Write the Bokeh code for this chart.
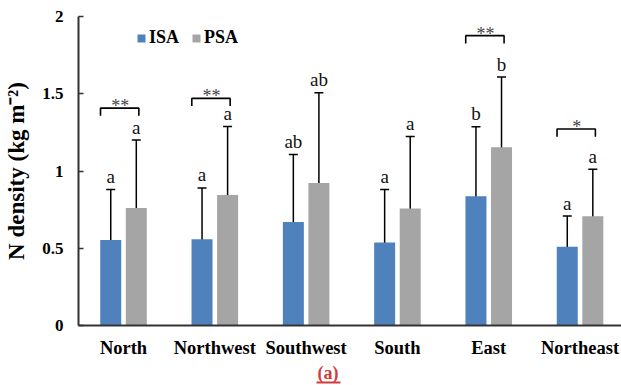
from bokeh.plotting import figure
from bokeh.models import (ColumnDataSource, Whisker, TeeHead, FixedTicker, Range1d,
                          Title, LinearAxis)
from bokeh.transform import dodge
from bokeh.core.properties import value
from bokeh.embed import file_html
from bokeh.resources import INLINE

categories = ["North", "Northwest", "Southwest", "South", "East", "Northeast"]
isa = [0.554, 0.558, 0.670, 0.537, 0.836, 0.509]
psa = [0.760, 0.845, 0.923, 0.757, 1.153, 0.707]
isa_err = [0.327, 0.332, 0.437, 0.343, 0.450, 0.199]
psa_err = [0.440, 0.443, 0.584, 0.466, 0.455, 0.304]
isa_letters = ["a", "a", "ab", "a", "b", "a"]
psa_letters = ["a", "a", "ab", "a", "b", "a"]
sig_groups = [0, 1, 4, 5]
sig_levels = [1.407, 1.470, 1.876, 1.272]
sig_marks = ["**", "**", "**", "*"]
y_ticks = [0, 0.5, 1, 1.5, 2]
panel_label = "(a)"

SERIF = "Liberation Serif"
RED = "#D23B3B"
OFF = 0.14
W = 0.23

xs = list(range(len(categories)))
src = ColumnDataSource(dict(
    x=xs, isa=isa, psa=psa,
    isa_hi=[v + e for v, e in zip(isa, isa_err)],
    isa_lo=[v - e for v, e in zip(isa, isa_err)],
    psa_hi=[v + e for v, e in zip(psa, psa_err)],
    psa_lo=[v - e for v, e in zip(psa, psa_err)],
    isa_l=isa_letters, psa_l=psa_letters,
))

p = figure(width=621, height=385, output_backend="svg", toolbar_location=None,
           x_range=Range1d(-0.493, 5.454), y_range=Range1d(0, 2),
           min_border_left=78, min_border_right=0, min_border_top=16, min_border_bottom=60)
p.outline_line_color = None
p.xgrid.visible = False
p.ygrid.visible = False

p.vbar(x=dodge("x", -OFF), top="isa", width=W, source=src, fill_color="#4F81BD",
       line_color=None, legend_label="ISA")
p.vbar(x=dodge("x", OFF), top="psa", width=W, source=src, fill_color="#A5A5A5",
       line_color=None, legend_label="PSA")

for key, off in (("isa", -OFF), ("psa", OFF)):
    w = Whisker(source=src, base=dodge("x", off), upper=key + "_hi", lower=key + "_lo",
                line_color="black", line_width=1.5,
                upper_head=TeeHead(size=9, line_width=1.5, line_color="black"),
                lower_head=TeeHead(size=9, line_width=1.5, line_color="black"))
    p.add_layout(w)
    p.text(x=dodge("x", off), y=key + "_hi", text=key + "_l", source=src,
           text_font=value(SERIF), text_font_size="19px", text_color="#111111",
           text_align="center", text_baseline="alphabetic", y_offset=-13)

# significance brackets
bx, by = [], []
for g, lv in zip(sig_groups, sig_levels):
    bx.append([g - 0.252, g - 0.252, g + 0.168, g + 0.168])
    by.append([lv - 0.05, lv, lv, lv - 0.05])
p.multi_line(xs=bx, ys=by, line_color="black", line_width=1.6)
p.text(x=[g - 0.035 for g in sig_groups], y=sig_levels, text=sig_marks,
       text_font=value(SERIF), text_font_size="18px", text_color="#444444",
       text_align="center", text_baseline="alphabetic", y_offset=-2)

# axes
p.xaxis.ticker = FixedTicker(ticks=xs)
p.xaxis.major_label_overrides = {i: c for i, c in enumerate(categories)}
p.xaxis.major_tick_line_color = None
p.xaxis.minor_tick_line_color = None
p.xaxis.axis_line_width = 2
p.xaxis.axis_line_color = "#333333"
p.xaxis.major_label_text_font = SERIF
p.xaxis.major_label_text_font_style = "bold"
p.xaxis.major_label_text_font_size = "18.5px"
p.xaxis.major_label_text_color = "black"
p.xaxis.major_label_standoff = 6

p.yaxis.ticker = FixedTicker(ticks=y_ticks)
p.yaxis.major_label_overrides = {0: "0", 0.5: "0.5", 1: "1", 1.5: "1.5", 2: "2"}
p.yaxis.minor_tick_line_color = None
p.yaxis.major_tick_in = 5
p.yaxis.major_tick_out = 0
p.yaxis.major_tick_line_width = 1.5
p.yaxis.major_tick_line_color = "#333333"
p.yaxis.axis_line_width = 2
p.yaxis.axis_line_color = "#333333"
p.yaxis.major_label_text_font = SERIF
p.yaxis.major_label_text_font_style = "bold"
p.yaxis.major_label_text_font_size = "17px"
p.yaxis.major_label_text_color = "black"
p.yaxis.major_label_standoff = 15
p.yaxis.axis_label = "N density (kg m⁻²)"
p.yaxis.axis_label_text_font = SERIF
p.yaxis.axis_label_text_font_style = "bold"
p.yaxis.axis_label_text_font_size = "23px"
p.yaxis.axis_label_text_color = "black"
p.yaxis.axis_label_standoff = 10

lg = p.legend[0]
lg.orientation = "horizontal"
lg.location = (58, 277)
lg.padding = 0
lg.margin = 0
lg.spacing = 12
lg.label_standoff = 3
lg.glyph_width = 10
lg.glyph_height = 10
lg.border_line_color = None
lg.background_fill_alpha = 0
lg.label_text_font = SERIF
lg.label_text_font_style = "bold"
lg.label_text_font_size = "18px"
lg.label_text_color = "black"

# panel caption "(a)" below the category axis, underlined
cap = Title(text=panel_label, align="left", offset=239, standoff=0,
            text_font=SERIF, text_font_style="bold", text_font_size="18px",
            text_color=RED)
p.add_layout(cap, "below")
uline = LinearAxis(bounds=(2.115, 2.378), ticker=FixedTicker(ticks=[]),
                   axis_line_color=RED, axis_line_width=2,
                   major_tick_line_color=None, minor_tick_line_color=None,
                   major_label_standoff=0, axis_label_standoff=0,
                   major_tick_out=0, major_tick_in=0)
p.add_layout(uline, "below")

open("out.html", "w").write(file_html(p, INLINE))
